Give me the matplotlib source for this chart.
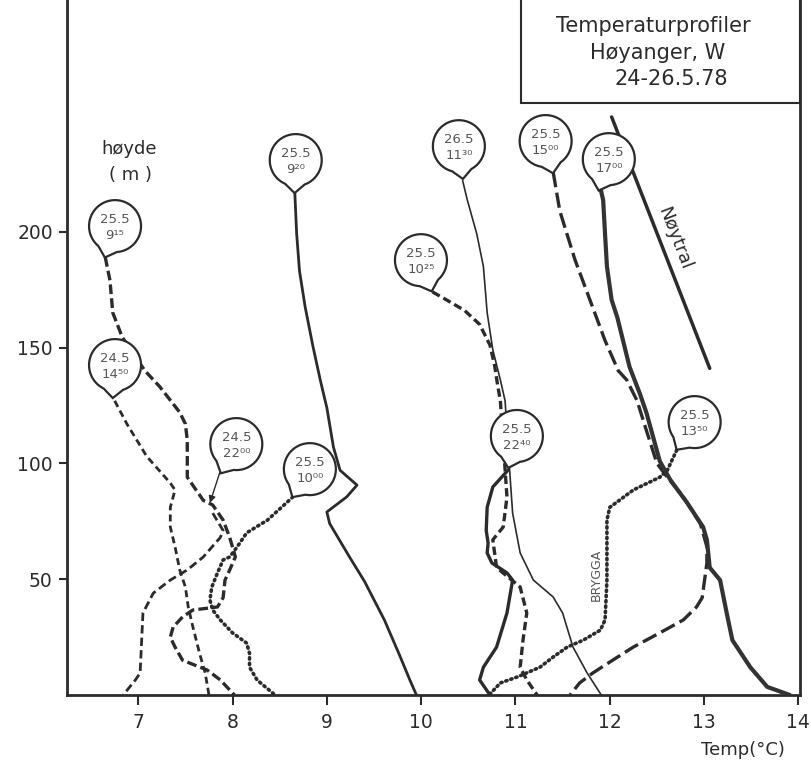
import numpy as np
import matplotlib
matplotlib.use("Agg")
import matplotlib.pyplot as plt
from matplotlib.patches import Polygon, Rectangle
from matplotlib.transforms import ScaledTranslation

plt.rcParams['font.family'] = ['DejaVu Sans']
plt.rcParams['lines.scale_dashes'] = False

INK = '#2b2b2b'
SOFT = '#555555'

# Temperature profiles: temperature (°C) against height (m)
t_0915 = [6.65, 6.70, 6.73, 6.83, 7.07, 7.23, 7.44, 7.50, 7.52, 7.52, 7.69, 7.79, 7.90, 7.97, 8.03,
          7.97, 7.92, 7.90, 7.84, 7.58, 7.47, 7.37, 7.34, 7.39, 7.47, 7.73, 7.87, 8.02]
h_0915 = [189, 179, 165, 154.5, 140, 133, 122, 117, 110, 94, 84, 82, 75.5, 68, 59.6,
          54, 49.6, 42, 38, 36.7, 33.7, 29.3, 25, 20.7, 15, 10.8, 6.5, 0]

t_1450 = [6.75, 6.88, 7.09, 7.34, 7.39, 7.34, 7.34, 7.39, 7.44, 7.50, 7.53, 7.58, 7.65, 7.71, 7.75]
h_1450 = [127, 117, 103, 91.5, 88.5, 81, 72.5, 64, 54, 46.6, 38, 29.3, 18, 9.5, 0]

t_2200 = [7.79, 7.90, 7.87, 7.69, 7.52, 7.34, 7.16, 7.05, 7.04, 7.02, 6.97, 6.84]
h_2200 = [78.5, 71, 68, 59.6, 54, 49.6, 44, 35.4, 26.8, 9.5, 6.5, 0]

t_1000 = [8.64, 8.37, 8.15, 8.05, 7.97, 7.90, 7.84, 7.78, 7.76, 7.79, 7.87, 8.00, 8.15, 8.18, 8.18, 8.26, 8.45]
h_1000 = [85.5, 75.5, 70, 64, 59.6, 58.3, 52.7, 46.6, 41, 36.7, 32.4, 26.8, 22.4, 18, 12, 6.5, 0]

t_0920 = [8.66, 8.68, 8.71, 8.77, 8.85, 8.93, 9.00, 9.07, 9.14, 9.32, 9.21, 9.00, 9.03, 9.24, 9.40,
          9.61, 9.77, 9.88, 9.95]
h_0920 = [217, 199, 183, 167.5, 151, 136, 124, 107, 97, 90.6, 85.5, 79, 74, 59.6, 49,
          32.4, 17.3, 6.5, 0]

t_1130 = [10.44, 10.49, 10.59, 10.66, 10.70, 10.76, 10.84, 10.89, 10.94, 10.97, 11.05, 11.19, 11.40,
          11.50, 11.61, 11.76, 11.91]
h_1130 = [222, 213.6, 199, 185, 165, 149, 136, 127, 96, 78.5, 61.3, 49.6, 42.3, 35.4, 20.7, 9.5, 0]

t_1025 = [10.12, 10.25, 10.46, 10.62, 10.73, 10.78, 10.81, 10.84, 10.91, 10.87, 10.76, 10.80, 11.05,
          11.12, 11.08, 11.05, 11.12, 11.23]
h_1025 = [174, 171, 166, 160, 151, 142, 134, 127, 85.5, 72.5, 67, 55, 46.6, 35.4, 23.7, 12, 6.5, 0]

t_2240 = [10.92, 10.76, 10.70, 10.69, 10.71, 10.70, 10.75, 10.91, 10.97, 10.91, 10.80, 10.66, 10.62, 10.73]
h_2240 = [97, 89.8, 81, 71, 65.6, 61.3, 57, 52.7, 49.6, 35.4, 20.7, 12, 6.5, 0]

t_1350 = [12.71, 12.61, 12.53, 12.25, 12.00, 11.97, 11.97, 11.97, 11.95, 11.90, 11.72, 11.55, 11.40,
          11.26, 11.02, 10.84, 10.72]
h_1350 = [105.7, 97, 94, 88.5, 81, 75.5, 64, 49.6, 32.4, 28, 23.7, 20.7, 16.4, 12, 7.8, 5.2, 0]

t_1500 = [11.40, 11.47, 11.63, 11.79, 11.95, 12.09, 12.18, 12.29, 12.39, 12.50, 12.61, 12.78, 12.96,
          13.03, 13.03, 12.98, 12.92, 12.78, 12.53, 12.25, 12.03, 11.82, 11.68, 11.58]
h_1500 = [225.7, 209, 188, 170.5, 153, 140, 136, 127, 114, 100, 94, 85.5, 74,
          64, 57, 42, 38, 32.4, 26.8, 20.7, 15, 9.5, 5.2, 0]

t_1700 = [11.90, 11.93, 11.95, 11.97, 12.02, 12.08, 12.21, 12.32, 12.39, 12.53, 12.64, 12.82, 12.99,
          13.03, 13.06, 13.17, 13.24, 13.30, 13.49, 13.67, 13.91]
h_1700 = [219, 213.6, 199, 185, 170.5, 163, 141.6, 130, 121.7, 101, 93, 83, 72.5,
          67, 55, 49.6, 35.4, 23.7, 12, 3.5, 0]

# Neutral (dry adiabatic) reference line
t_noytral = [12.02, 13.06]
h_noytral = [249.5, 141]

# Sounding labels: date, time, bubble centre (°C, m), direction of the pointer (deg)
bubbles = [
    ("25.5", "9¹⁵", 6.754, 202.4, -108),
    ("24.5", "14⁵⁰", 6.754, 142.4, -94),
    ("25.5", "9²⁰", 8.67, 230.9, -92),
    ("25.5", "10²⁵", 9.998, 187.7, -71),
    ("26.5", "11³⁰", 10.40, 236.9, -83),
    ("25.5", "15⁰⁰", 11.32, 239.1, -77),
    ("25.5", "17⁰⁰", 11.99, 231.3, -108),
    ("24.5", "22⁰⁰", 8.04, 108.3, -118),
    ("25.5", "10⁰⁰", 8.82, 97.5, -122),
    ("25.5", "22⁴⁰", 11.015, 111.8, -105),
    ("25.5", "13⁵⁰", 12.90, 117.8, -123),
]

x_ticks = [7, 8, 9, 10, 11, 12, 13, 14]
y_ticks = [50, 100, 150, 200]

fig = plt.figure(figsize=(8.11, 7.70), dpi=100)
ax = fig.add_axes([0.0822, 0.0974, 0.9042, 0.9026])
ax.set_xlim(6.241, 14.017)
ax.set_ylim(0, 300)

def prof(t, h, **kw):
    base = dict(color=INK, solid_capstyle='round', dash_capstyle='butt', zorder=3)
    base.update(kw)
    ax.plot(t, h, **base)

prof(t_0915, h_0915, lw=2.4, dashes=(7, 3))
prof(t_1450, h_1450, lw=2.0, dashes=(5, 3))
prof(t_2200, h_2200, lw=2.0, dashes=(6, 3))
prof(t_1000, h_1000, lw=2.6, dashes=(1.0, 3.0), dash_capstyle='round')
prof(t_0920, h_0920, lw=2.0)
prof(t_1130, h_1130, lw=1.2)
prof(t_1025, h_1025, lw=2.4, dashes=(6, 3))
prof(t_2240, h_2240, lw=2.4)
prof(t_1350, h_1350, lw=2.6, dashes=(1.0, 2.8), dash_capstyle='round')
prof(t_1500, h_1500, lw=2.4, dashes=(11, 4))
prof(t_1700, h_1700, lw=3.0, color='#333333')
prof(t_noytral, h_noytral, lw=2.5)

# pointer from the 22:00 label to its profile
ax.annotate('', xy=(7.76, 82.9), xytext=(7.866, 96.2),
            arrowprops=dict(arrowstyle='-|>', lw=1.0, color=INK, mutation_scale=10,
                            shrinkA=0, shrinkB=0), zorder=4)

# speech-bubble labels
r_in = 0.26
half = np.radians(22)
for date, time, tx, hy, ang in bubbles:
    a = np.radians(ang)
    th = np.linspace(a + half, a + 2 * np.pi - half, 60)
    verts = np.column_stack([r_in * np.cos(th), r_in * np.sin(th)])
    tip = np.array([[1.27 * r_in * np.cos(a), 1.27 * r_in * np.sin(a)]])
    verts = np.vstack([verts, tip])
    trans = fig.dpi_scale_trans + ScaledTranslation(tx, hy, ax.transData)
    ax.add_patch(Polygon(verts, closed=True, transform=trans, facecolor='white',
                         edgecolor=INK, lw=1.6, zorder=5))
    ax.annotate(date, (tx, hy), xytext=(0, 5), textcoords='offset points',
                ha='center', va='center', fontsize=9.5, color=SOFT, zorder=6)
    ax.annotate(time, (tx, hy), xytext=(0, -6.5), textcoords='offset points',
                ha='center', va='center', fontsize=9.5, color=SOFT, zorder=6)

ax.text(12.69, 197, "Nøytral", rotation=-69, ha='center', va='center',
        fontsize=13, color=INK, zorder=6)
ax.text(11.86, 52, "BRYGGA", rotation=90, ha='center', va='center',
        fontsize=9, color=SOFT, zorder=6)

# title box in the upper right corner
ax.add_patch(Rectangle((0.619, 0.852), 0.381, 0.16, transform=ax.transAxes,
                       facecolor='white', edgecolor=INK, lw=1.5, zorder=7, clip_on=False))
ax.text(0.80, 0.962, "Temperaturprofiler", transform=ax.transAxes, ha='center', va='center',
        fontsize=15, color=INK, zorder=8)
ax.text(0.806, 0.924, "Høyanger, W", transform=ax.transAxes, ha='center', va='center',
        fontsize=15, color=INK, zorder=8)
ax.text(0.825, 0.886, "24-26.5.78", transform=ax.transAxes, ha='center', va='center',
        fontsize=15, color=INK, zorder=8)

ax.text(0.085, 0.786, "høyde", transform=ax.transAxes, ha='center', va='center',
        fontsize=13, color=INK)
ax.text(0.087, 0.748, "( m )", transform=ax.transAxes, ha='center', va='center',
        fontsize=13, color=INK)

fig.text(0.916, 0.026, "Temp(°C)", ha='center', va='center', fontsize=13, color=INK)

ax.set_xticks(x_ticks)
ax.set_xticklabels([str(v) for v in x_ticks])
ax.set_yticks(y_ticks)
ax.set_yticklabels([str(v) for v in y_ticks])
ax.tick_params(axis='both', colors=INK, labelsize=13.5, width=1.5)
ax.tick_params(axis='x', length=7, pad=6)
ax.tick_params(axis='y', length=6, pad=4)

for side in ['left', 'bottom', 'right']:
    ax.spines[side].set_color(INK)
    ax.spines[side].set_linewidth(2.0)
ax.spines['top'].set_visible(False)

fig.savefig("out.png", dpi=100, facecolor='white')
